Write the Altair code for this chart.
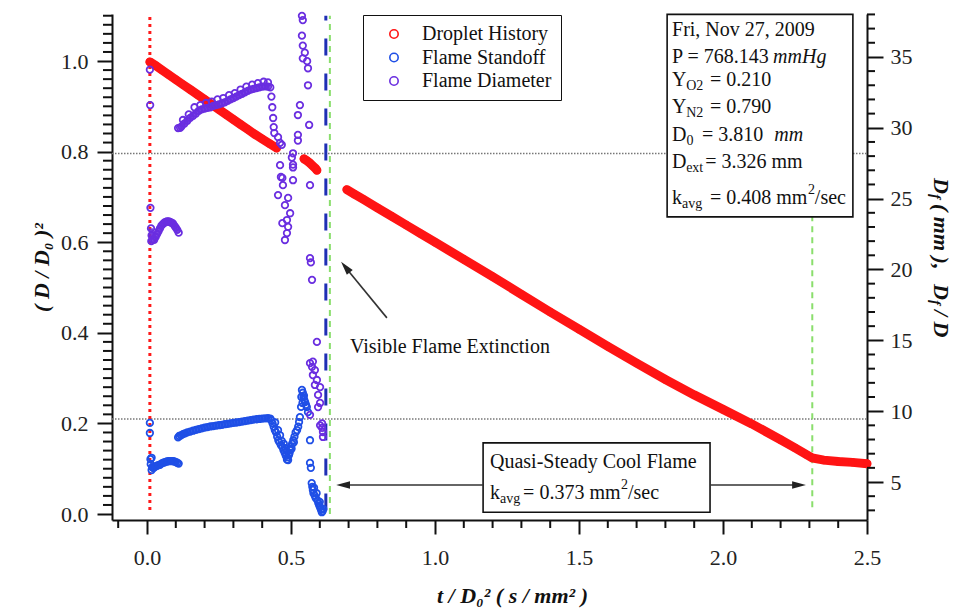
import altair as alt
import pandas as pd

SERIF = "Liberation Serif, Times New Roman, DejaVu Serif, serif"

series_names = ["Droplet History", "Flame Standoff", "Flame Diameter"]
series_colors = ["#ff1414", "#1f4fe6", "#6a2ee0"]

# ---- Droplet history: (D/D0)^2 vs t/D0^2 (left axis) ----
drop_t = [0.010, 0.030, 0.050, 0.075, 0.100, 0.125, 0.150, 0.175, 0.200, 0.225,
          0.250, 0.275, 0.300, 0.325, 0.350, 0.375, 0.400, 0.425, 0.450,
          0.545, 0.555, 0.565, 0.575, 0.585, 0.590,
          0.694, 0.720, 0.750, 0.800, 0.850, 0.900, 0.950, 1.000, 1.100, 1.200,
          1.300, 1.400, 1.500, 1.600, 1.700, 1.800, 1.900, 2.000, 2.100, 2.200,
          2.250, 2.290, 2.310, 2.350, 2.400, 2.450, 2.500]
drop_L = [0.998, 0.990, 0.981, 0.970, 0.959, 0.948, 0.937, 0.926, 0.915, 0.904,
          0.893, 0.882, 0.871, 0.860, 0.849, 0.838, 0.828, 0.818, 0.808,
          0.784, 0.780, 0.775, 0.769, 0.763, 0.759,
          0.716, 0.706, 0.695, 0.676, 0.657, 0.638, 0.619, 0.600, 0.562, 0.524,
          0.485, 0.446, 0.408, 0.370, 0.333, 0.297, 0.263, 0.231, 0.199, 0.164,
          0.146, 0.131, 0.124, 0.119, 0.116, 0.114, 0.111]
drop_seg = ["a"] * 19 + ["b"] * 6 + ["c"] * 27

# ---- Flame standoff Df/D (right axis) ----
stand_t = [0.010, 0.010, 0.012, 0.013,
           0.016, 0.016, 0.018, 0.022, 0.026, 0.030, 0.035, 0.040, 0.045, 0.050,
           0.055, 0.060, 0.065, 0.070, 0.075, 0.080, 0.085, 0.090, 0.095, 0.100,
           0.105, 0.110,
           0.108, 0.112, 0.118, 0.125, 0.132, 0.140, 0.150, 0.160, 0.170, 0.180,
           0.190, 0.200, 0.210, 0.220, 0.230, 0.240, 0.250, 0.260, 0.270, 0.280,
           0.290, 0.300, 0.310, 0.320, 0.330, 0.340, 0.350, 0.360, 0.370, 0.380,
           0.390, 0.400, 0.410, 0.420, 0.428,
           0.432, 0.436, 0.440, 0.444, 0.448, 0.452, 0.456, 0.460, 0.465, 0.470,
           0.474, 0.478, 0.482, 0.486, 0.488, 0.445, 0.455, 0.462, 0.468, 0.475,
           0.480, 0.484,
           0.490, 0.493, 0.495, 0.497, 0.500, 0.502, 0.504, 0.508, 0.510, 0.512,
           0.516, 0.521, 0.525, 0.528, 0.531,
           0.535, 0.536, 0.538, 0.540, 0.541, 0.543, 0.545, 0.546, 0.549, 0.552,
           0.555, 0.559,
           0.566, 0.566, 0.569,
           0.572, 0.574, 0.576, 0.578, 0.580, 0.583, 0.586, 0.589, 0.592, 0.595,
           0.598, 0.600, 0.601, 0.604, 0.607, 0.610, 0.612]
stand_v = [9.17, 8.46, 6.61, 6.26,
           5.84, 6.71, 6.05, 5.98, 6.05, 6.10, 6.15, 6.20, 6.22, 6.30,
           6.35, 6.38, 6.42, 6.45, 6.47, 6.48, 6.48, 6.47, 6.45, 6.40,
           6.36, 6.30,
           8.15, 8.25, 8.30, 8.38, 8.44, 8.50, 8.56, 8.62, 8.68, 8.74,
           8.79, 8.84, 8.88, 8.92, 8.95, 8.98, 9.01, 9.04, 9.08, 9.11,
           9.14, 9.17, 9.20, 9.23, 9.27, 9.30, 9.34, 9.37, 9.40, 9.43,
           9.45, 9.47, 9.49, 9.50, 9.48,
           9.35, 9.14, 8.90, 8.66, 8.50, 8.20, 7.95, 7.80, 7.60, 7.47,
           7.25, 7.06, 6.85, 6.58, 6.75, 9.20, 8.66, 8.30, 7.90, 7.70,
           7.40, 7.20,
           6.55, 6.90, 7.05, 7.25, 7.50, 7.35, 7.70, 7.95, 7.80, 8.20,
           8.50, 8.66, 8.90, 9.23, 9.58,
           10.30, 11.00, 11.50, 10.58, 11.30, 10.99, 11.10, 10.80, 10.64, 10.45,
           10.29, 9.93,
           7.95, 6.35, 6.00,
           4.92, 4.66, 4.44, 4.21, 4.60, 4.02, 3.86, 4.21, 3.70, 3.51,
           3.35, 3.60, 3.22, 3.05, 2.87, 2.95, 3.10]
# dense bands of overlapping markers ("" = scattered point)
stand_band = ([""] * 4 + ["s1"] * 1 + [""] * 1 + ["s1"] * 20 + ["s2"] * 35
              + [""] * (len(stand_t) - 61))

# ---- Flame diameter Df in mm (right axis) ----
diam_t = [0.010, 0.011, 0.012,
          0.014, 0.015, 0.016, 0.020, 0.025, 0.030, 0.035, 0.040, 0.045, 0.050,
          0.055, 0.060, 0.065, 0.070, 0.075, 0.080, 0.085, 0.090, 0.095, 0.100,
          0.105, 0.110,
          0.108, 0.115, 0.120, 0.130, 0.140, 0.150, 0.160, 0.170, 0.180, 0.190,
          0.200, 0.210, 0.220, 0.230, 0.240, 0.250, 0.260, 0.270, 0.280, 0.290,
          0.300, 0.310, 0.320, 0.330, 0.340, 0.350, 0.360, 0.370, 0.380, 0.390,
          0.400, 0.410, 0.420, 0.428,
          0.125, 0.145, 0.165, 0.185, 0.205, 0.225, 0.245, 0.265, 0.285, 0.305,
          0.325, 0.345, 0.365, 0.385, 0.405, 0.420,
          0.432, 0.435, 0.438, 0.440, 0.442, 0.455, 0.462, 0.468, 0.462, 0.465,
          0.470, 0.472, 0.455, 0.490, 0.479, 0.497, 0.486, 0.470, 0.490, 0.486,
          0.479, 0.507,
          0.538, 0.541, 0.538, 0.541, 0.548, 0.541, 0.556, 0.559, 0.559, 0.531,
          0.524, 0.563, 0.524, 0.524, 0.507, 0.503, 0.507, 0.507, 0.566, 0.566,
          0.569, 0.573, 0.590,
          0.566, 0.573, 0.576, 0.583, 0.576, 0.590, 0.583, 0.601, 0.594, 0.601,
          0.594, 0.566, 0.601, 0.608, 0.611, 0.611, 0.608]
diam_v = [34.10, 31.60, 24.35,
          22.90, 22.00, 22.40, 22.10, 22.10, 22.30, 22.50, 22.70, 22.90, 23.10,
          23.20, 23.30, 23.35, 23.40, 23.40, 23.35, 23.30, 23.25, 23.10, 22.95,
          22.80, 22.60,
          29.98, 30.00, 30.10, 30.30, 30.50, 30.70, 30.85, 31.00, 31.20, 31.30,
          31.35, 31.40, 31.45, 31.55, 31.60, 31.65, 31.72, 31.80, 31.90, 32.00,
          32.10, 32.20, 32.30, 32.40, 32.50, 32.60, 32.70, 32.75, 32.80, 32.85,
          32.90, 32.92, 32.90, 32.85,
          30.55, 30.95, 31.45, 31.60, 31.75, 31.85, 32.00, 32.10, 32.30, 32.45,
          32.70, 32.90, 33.05, 33.15, 33.25, 33.20,
          32.20, 31.45, 30.69, 30.05, 29.63, 29.34, 28.93, 28.80, 27.36, 26.53,
          26.46, 25.95, 25.25, 25.05, 24.54, 23.97, 23.49, 23.27, 23.01, 22.57,
          22.08, 26.30,
          37.90, 37.60, 36.50, 35.80, 35.30, 34.90, 34.70, 34.20, 33.00, 31.60,
          30.90, 30.20, 29.50, 29.10, 28.20, 27.90, 27.40, 27.20, 25.95, 20.80,
          20.50, 19.27, 14.89,
          13.39, 13.13, 13.50, 12.90, 12.55, 12.20, 11.85, 11.70, 11.15, 10.58,
          10.29, 9.74, 9.00, 8.82, 8.53, 8.18, 9.14]
diam_band = ([""] * 3 + ["p1"] * 1 + [""] * 1 + ["p1"] * 20 + ["p2"] * 34
             + [""] * (len(diam_t) - 59))

# ---- axis ticks ----
x_major = [0.0, 0.5, 1.0, 1.5, 2.0, 2.5]
x_minor = [-0.1, 0.1, 0.2, 0.3, 0.4, 0.6, 0.7, 0.8, 0.9, 1.1, 1.2, 1.3, 1.4,
           1.6, 1.7, 1.8, 1.9, 2.1, 2.2, 2.3, 2.4]
yl_major = [0.0, 0.2, 0.4, 0.6, 0.8, 1.0]
yl_minor = [round(0.02 * i, 2) for i in range(56) if i % 10 != 0]
yr_major = [5, 10, 15, 20, 25, 30, 35]
yr_minor = [v for v in range(3, 39) if v % 5 != 0]

x_scale = alt.Scale(domain=[-0.1215, 2.5], nice=False, zero=False)
yl_scale = alt.Scale(domain=[-0.0132, 1.1038], nice=False, zero=False)
yr_scale = alt.Scale(domain=[2.32, 38.03], nice=False, zero=False)

common_axis = dict(labelFont=SERIF, labelFontSize=22, labelColor="#222", labelOverlap=False,
                   labelFlush=False, tickColor="#111", tickWidth=2, domainColor="#111",
                   domainWidth=2, grid=False, titleFont=SERIF, titleFontSize=22,
                   titleFontWeight="bold", titleFontStyle="italic", titleColor="#111")

x_axis = alt.Axis(values=x_major, format=".1f", title="t / D₀²  ( s / mm² )",
                  tickSize=14, labelPadding=13, titleX=400, titleY=75, titleAlign="center",
                  titleBaseline="middle", **common_axis)
yl_axis = alt.Axis(values=yl_major, format=".1f", title="( D / D₀ )²",
                   tickSize=15, labelPadding=9, titleX=-71, titleY=253, titleAngle=270,
                   titleAlign="center", titleBaseline="middle", **common_axis)
yr_axis = alt.Axis(values=yr_major, format="d", orient="right", title="",
                   tickSize=16, labelPadding=7, **common_axis)


def X(field="t"):
    return alt.X(f"{field}:Q", scale=x_scale, axis=x_axis)


def YL(field="L"):
    return alt.Y(f"{field}:Q", scale=yl_scale, axis=yl_axis)


def YR(field="v"):
    return alt.Y(f"{field}:Q", scale=yr_scale, axis=yr_axis)


color = alt.Color("series:N", scale=alt.Scale(domain=series_names, range=series_colors),
                  legend=alt.Legend(title=None, orient="none", legendX=251, legendY=1,
                                    fillColor="white", strokeColor="#111", padding=9,
                                    symbolType="circle", symbolSize=70, symbolStrokeWidth=1.6,
                                    symbolOffset=12, labelOffset=18, labelFont=SERIF,
                                    labelFontSize=20, labelColor="#111", rowPadding=3.5))

# ---- data frames ----
drop_df = pd.DataFrame({"t": drop_t, "L": drop_L, "seg": drop_seg, "series": "Droplet History"})
stand_df = pd.DataFrame({"t": stand_t, "v": stand_v, "band": stand_band, "series": "Flame Standoff"})
diam_df = pd.DataFrame({"t": diam_t, "v": diam_v, "band": diam_band, "series": "Flame Diameter"})

# reference lines (data coordinates)
hline_df = pd.DataFrame({"L": [0.796, 0.21], "t0": [-0.1215, -0.1215], "t1": [2.5, 2.5]})
red_v_df = pd.DataFrame({"t": [0.010], "L0": [0.009], "L1": [1.10]})
blue_v_df = pd.DataFrame({"t": [0.621], "L0": [0.008], "L1": [1.10]})
green_v_df = pd.DataFrame({"t": [0.635, 2.31], "L0": [0.0, 0.015], "L1": [1.10, 1.10]})

box_df = pd.DataFrame({"t0": [1.806, 1.167], "t1": [2.451, 1.955],
                       "L0": [0.656, 0.004], "L1": [1.103, 0.157]})

arrow_df = pd.DataFrame({"t0": [0.833, 1.167, 1.955], "L0": [0.433, 0.064, 0.064],
                         "t1": [0.691, 0.690, 2.258], "L1": [0.543, 0.064, 0.064]})
head_df = pd.DataFrame({"t": [0.689, 0.681, 2.264], "L": [0.545, 0.064, 0.064],
                        "ang": [320.7, 270, 90]})

txt_normal = pd.DataFrame([
    (1.823, 1.068, "Fri, Nov 27, 2009", 20),
    (1.823, 1.009, "P = 768.143", 20),
    (1.823, 0.958, "Y", 20), (1.872, 0.945, "O2", 14), (1.955, 0.958, "= 0.210", 20),
    (1.823, 0.898, "Y", 20), (1.872, 0.885, "N2", 14), (1.955, 0.898, "= 0.790", 20),
    (1.823, 0.837, "D", 20), (1.873, 0.824, "0", 14), (1.927, 0.837, "= 3.810", 20),
    (1.823, 0.777, "D", 20), (1.872, 0.764, "ext", 14), (1.938, 0.777, "= 3.326 mm", 20),
    (1.823, 0.698, "k", 20), (1.858, 0.685, "avg", 14), (1.955, 0.698, "= 0.408 mm", 20),
    (2.295, 0.716, "2", 14), (2.319, 0.698, "/sec", 20),
    (0.705, 0.369, "Visible Flame Extinction", 20),
    (1.191, 0.115, "Quasi-Steady Cool Flame", 20),
    (1.191, 0.046, "k", 20), (1.226, 0.033, "avg", 14), (1.306, 0.046, "= 0.373 mm", 20),
    (1.646, 0.064, "2", 14), (1.670, 0.046, "/sec", 20),
], columns=["t", "L", "text", "fs"])
txt_italic = pd.DataFrame([
    (2.174, 1.009, "mmHg", 20),
    (2.178, 0.837, "mm", 20),
], columns=["t", "L", "text", "fs"])

# right-hand axis title pieces, pixel positions relative to plot origin
rtitle_df = pd.DataFrame([
    (829, 164, "D", 22), (824, 180, "f", 15), (829, 190, "(  mm  ),", 22),
    (829, 270, "D", 22), (824, 286, "f", 15), (829, 296, "/  D", 22),
], columns=["xp", "yp", "text", "fs"])

# ---- layers ----
hl = alt.Chart(hline_df).mark_rule(color="#777", strokeWidth=1.5, strokeDash=[1.5, 1.5]).encode(
    x=X("t0"), x2="t1", y=YL("L"))
x_min_ticks = alt.Chart(pd.DataFrame({"t": x_minor})).mark_rule(color="#111", strokeWidth=2).encode(
    x=X(), y=alt.value(506), y2=alt.value(514))
yl_min_ticks = alt.Chart(pd.DataFrame({"L": yl_minor})).mark_rule(color="#111", strokeWidth=2).encode(
    y=YL(), x=alt.value(-9), x2=alt.value(0))
vl_red = alt.Chart(red_v_df).mark_rule(color="#ff1a1a", strokeWidth=3, strokeDash=[3, 4]).encode(
    x=X(), y=YL("L0"), y2="L1")
vl_green = alt.Chart(green_v_df).mark_rule(color="#8ade6c", strokeWidth=2, strokeDash=[6, 5]).encode(
    x=X(), y=YL("L0"), y2="L1")
vl_blue = alt.Chart(blue_v_df).mark_rule(color="#1f2fb5", strokeWidth=3, strokeDash=[17, 18]).encode(
    x=X(), y=YL("L0"), y2="L1")

red_line = alt.Chart(drop_df).mark_line(color="#ff1414", strokeWidth=9, strokeCap="round").encode(
    x=X(), y=YL(), detail="seg:N", order="t:Q")
red_pts = alt.Chart(drop_df).mark_point(filled=False, size=45, strokeWidth=1.6, opacity=1).encode(
    x=X(), y=YL(), color=color)

boxes = alt.Chart(box_df).mark_rect(fill="white", stroke="#111", strokeWidth=1.6).encode(
    x=X("t0"), x2="t1", y=YL("L0"), y2="L1")
arrows = alt.Chart(arrow_df).mark_rule(color="#333", strokeWidth=1.6).encode(
    x=X("t0"), y=YL("L0"), x2="t1", y2="L1")
heads = alt.Chart(head_df).mark_point(shape="M0,-1L0.55,1L-0.55,1Z", filled=True, color="#222",
                                      size=190, opacity=1).encode(
    x=X(), y=YL(), angle=alt.Angle("ang:Q", scale=None))

t_norm = alt.Chart(txt_normal).mark_text(font=SERIF, align="left", baseline="middle", color="#111").encode(
    x=X(), y=YL(), text="text:N", size=alt.Size("fs:Q", scale=None, legend=None))
t_ital = alt.Chart(txt_italic).mark_text(font=SERIF, fontStyle="italic", align="left", baseline="middle",
                                         color="#111").encode(
    x=X(), y=YL(), text="text:N", size=alt.Size("fs:Q", scale=None, legend=None))
r_title = alt.Chart(rtitle_df).mark_text(font=SERIF, fontStyle="italic", fontWeight="bold", align="left",
                                         baseline="middle", angle=90, color="#111").encode(
    x=alt.X("xp:Q", scale=None), y=alt.Y("yp:Q", scale=None),
    text="text:N", size=alt.Size("fs:Q", scale=None, legend=None))

yr_min_ticks = alt.Chart(pd.DataFrame({"v": yr_minor})).mark_rule(color="#111", strokeWidth=2).encode(
    y=YR("v"), x=alt.value(755), x2=alt.value(763))
stand_band_line = alt.Chart(stand_df).transform_filter("datum.band != ''").mark_line(
    color="#1f4fe6", strokeWidth=5, opacity=0.9).encode(x=X(), y=YR(), detail="band:N", order="t:Q")
diam_band_line = alt.Chart(diam_df).transform_filter("datum.band != ''").mark_line(
    color="#6a2ee0", strokeWidth=5, opacity=0.9).encode(x=X(), y=YR(), detail="band:N", order="t:Q")
blue_pts = alt.Chart(stand_df).mark_point(filled=False, size=42, strokeWidth=1.8, opacity=1).encode(
    x=X(), y=YR(), color=color)
purple_pts = alt.Chart(diam_df).mark_point(filled=False, size=42, strokeWidth=1.8, opacity=1).encode(
    x=X(), y=YR(), color=color)

left = alt.layer(hl, x_min_ticks, yl_min_ticks, vl_red, vl_green, vl_blue, red_line, red_pts,
                 boxes, arrows, heads, t_norm, t_ital, r_title)
right = alt.layer(yr_min_ticks, stand_band_line, diam_band_line, blue_pts, purple_pts)

chart = alt.layer(left, right).resolve_scale(y="independent").properties(
    width=755, height=506,
    autosize=alt.AutoSizeParams(type="none"),
    padding={"left": 104, "top": 6, "right": 91, "bottom": 88},
    background="white",
).configure_view(stroke=None)

chart.save("out.html", embed_options={"renderer": "svg", "actions": False})
